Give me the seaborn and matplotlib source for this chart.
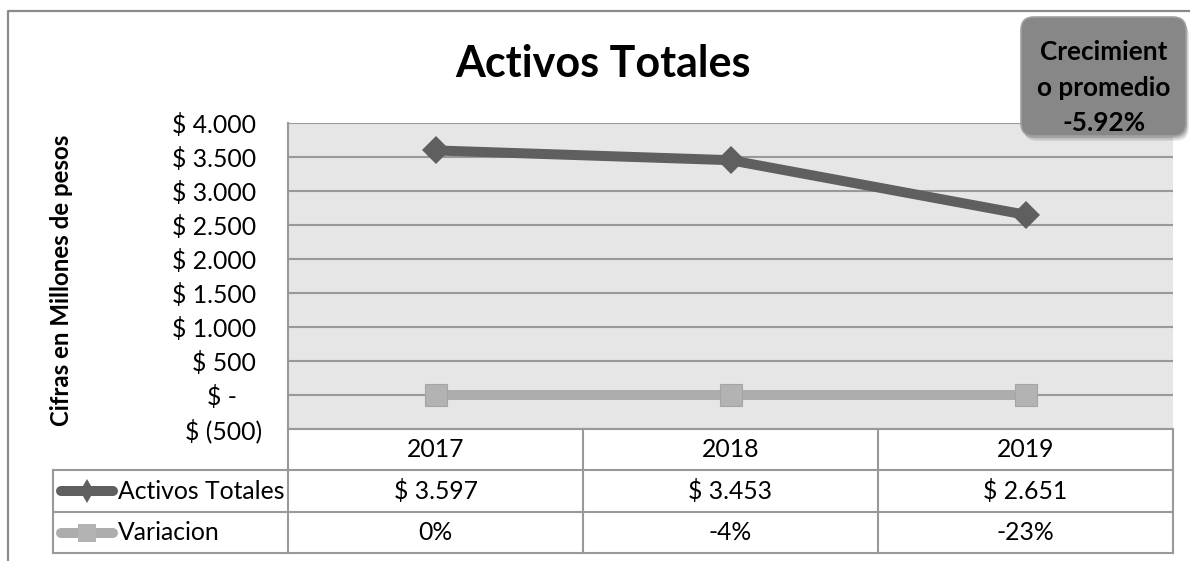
import matplotlib
matplotlib.use("Agg")
import matplotlib.pyplot as plt
from matplotlib.patches import FancyBboxPatch
import seaborn as sns
import pandas as pd

years = ["2017", "2018", "2019"]
activos = [3597, 3453, 2651]
variacion = [0.0, -0.04, -0.23]
crecimiento = -5.92

yticks = [-500, 0, 500, 1000, 1500, 2000, 2500, 3000, 3500, 4000]
ytick_labels = ["$ (500)", "$ -    ", "$ 500 ", "$ 1.000 ", "$ 1.500 ", "$ 2.000 ",
                "$ 2.500 ", "$ 3.000 ", "$ 3.500 ", "$ 4.000 "]

DARK = "#5f5f5f"
LIGHT = "#adadad"
GRID = "#999999"
FS = 17.8

plt.rcParams["font.family"] = ["Lato", "DejaVu Sans"]

df = pd.DataFrame({"Año": years, "Activos Totales": activos, "Variacion": variacion})

W, H = 1190, 561
fig = plt.figure(figsize=(W / 100, H / 100), dpi=100)
fig.patch.set_facecolor("white")

# plot area (pixel box 288..1173 x 123..429)
ax = fig.add_axes([288 / W, 1 - 429 / H, (1173 - 288) / W, (429 - 123) / H])
ax.set_facecolor("#e6e6e6")

sns.lineplot(data=df, x="Año", y="Activos Totales", ax=ax, color=DARK, linewidth=7.2,
             marker="D", markersize=14, markeredgewidth=0, markerfacecolor=DARK, zorder=4)
sns.lineplot(data=df, x="Año", y="Variacion", ax=ax, color=LIGHT, linewidth=7.2,
             marker="s", markersize=15.5, markeredgewidth=0.8, markeredgecolor="#a5a5a5",
             markerfacecolor="#b3b3b3", zorder=3)

ax.set_xlim(-0.5, len(years) - 0.5)
ax.set_ylim(-500, 4000)
ax.set_yticks(yticks)
ax.set_yticklabels(ytick_labels, fontsize=FS)
ax.tick_params(axis="y", length=0, pad=18.5)
ax.set_xticks([])
ax.set_xlabel("")
ax.set_ylabel("Cifras en Millones de pesos", fontsize=17.3, fontweight="bold")
ax.yaxis.set_label_coords((73 - 288) / 885, 0.485)
ax.grid(axis="y", color=GRID, linewidth=1.5)
ax.set_axisbelow(True)
for s in ["top", "right"]:
    ax.spines[s].set_visible(False)
for s in ["left", "bottom"]:
    ax.spines[s].set_color(GRID)
    ax.spines[s].set_linewidth(1.5)

# overlay in pixel coordinates for frame, table and note box
ov = fig.add_axes([0, 0, 1, 1], zorder=5)
ov.set_xlim(0, W)
ov.set_ylim(H, 0)
ov.axis("off")
ov.patch.set_alpha(0)

# outer chart frame
ov.plot([8, 8, W], [H, 11, 11], color="#8a8a8a", lw=1.6, solid_capstyle="butt")

ov.text(603, 77, "Activos Totales", fontsize=31, fontweight="bold", ha="center", va="baseline")

# data table under the plot
cols = [ax.transData.transform((i - 0.5, 0))[0] for i in range(len(years) + 1)]
top, r1, r2, bot = 429, 470, 512, 553
tl = dict(color=GRID, lw=1.5, solid_capstyle="projecting")
for x in cols:
    ov.plot([x, x], [top, bot], **tl)
ov.plot([53, 53], [r1, bot], **tl)
for y in [r1, r2, bot]:
    ov.plot([53, cols[-1]], [y, y], **tl)

for i, yr in enumerate(years):
    xc = (cols[i] + cols[i + 1]) / 2
    ov.text(xc, (top + r1) / 2, yr, fontsize=FS, ha="center", va="center")
    ov.text(xc, (r1 + r2) / 2, f"$ {activos[i]:,}".replace(",", "."), fontsize=FS,
            ha="center", va="center")
    ov.text(xc, (r2 + bot) / 2, f"{variacion[i]:.0%}", fontsize=FS, ha="center", va="center")

# legend keys inside the row headers
ov.plot([61, 113], [(r1 + r2) / 2] * 2, color=DARK, lw=7.2, solid_capstyle="round")
ov.plot([87], [(r1 + r2) / 2], marker="d", ms=12.5, color=DARK, mew=0)
ov.plot([61, 113], [(r2 + bot) / 2] * 2, color=LIGHT, lw=7.2, solid_capstyle="round")
ov.plot([87], [(r2 + bot) / 2], marker="s", ms=12.5, color="#b3b3b3", mew=0)
ov.text(118, (r1 + r2) / 2, "Activos Totales", fontsize=FS, ha="left", va="center")
ov.text(118, (r2 + bot) / 2, "Variacion", fontsize=FS, ha="left", va="center")

# average growth note
for d, a in [(5, 0.08), (3.5, 0.1), (2, 0.12)]:
    ov.add_patch(FancyBboxPatch((1021 + d * 0.6, 17 + d), 165, 119,
                                boxstyle="round,pad=0,rounding_size=13",
                                facecolor="#000000", alpha=a, edgecolor="none"))
ov.add_patch(FancyBboxPatch((1021, 17), 165, 119, boxstyle="round,pad=0,rounding_size=13",
                            facecolor="#878787", edgecolor="#a0a0a0", lw=1.2))
for yy, line in zip([52, 88, 123], ["Crecimient", "o promedio", f"{crecimiento:.2f}%"]):
    ov.text(1104, yy, line, fontsize=18.8, fontweight="bold", ha="center", va="center")

fig.savefig("out.png", dpi=100)
